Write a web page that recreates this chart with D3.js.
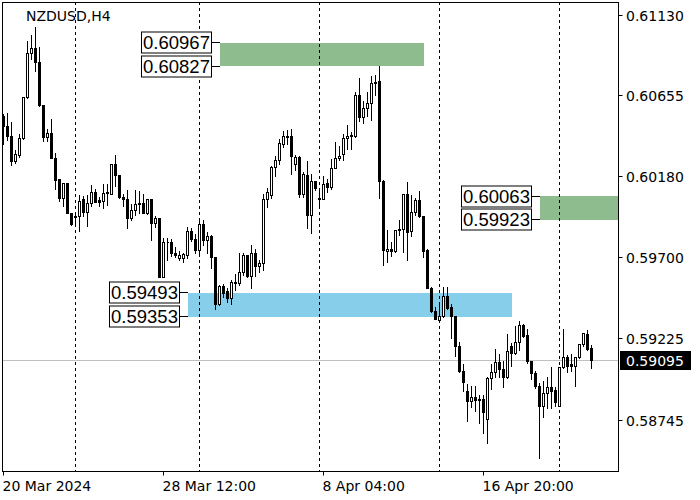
<!DOCTYPE html>
<html><head><meta charset="utf-8">
<script src="https://cdn.jsdelivr.net/npm/d3@7/dist/d3.min.js"></script>
<style>body{margin:0;background:#fff}svg{display:block}</style>
</head><body><svg id="c" width="700" height="500"></svg>
<script>
const symbolTitle = "NZDUSD,H4";
const opens = [0.60535,0.60476,0.60417,0.60266,0.60301,0.60400,0.60645,0.60904,0.60934,0.60851,
0.60596,0.60410,0.60433,0.60286,0.60162,0.60051,0.60139,0.59962,0.59938,0.59942,
0.60041,0.59966,0.60021,0.60084,0.60035,0.60031,0.60080,0.60074,0.60247,0.60184,
0.60056,0.60045,0.59933,0.59976,0.60015,0.60018,0.59962,0.60045,0.59903,0.59933,
0.59585,0.59789,0.59790,0.59727,0.59697,0.59697,0.59711,0.59854,0.59809,0.59746,
0.59899,0.59803,0.59827,0.59701,0.59426,0.59534,0.59500,0.59458,0.59556,0.59550,
0.59615,0.59711,0.59589,0.59723,0.59648,0.59668,0.60041,0.60066,0.60233,0.60272,
0.60369,0.60417,0.60413,0.60247,0.60292,0.60070,0.60182,0.59952,0.60152,0.60047,
0.60045,0.60135,0.60113,0.60227,0.60282,0.60311,0.60404,0.60423,0.60413,0.60653,
0.60528,0.60581,0.60610,0.60731,0.60741,0.60148,0.59736,0.59750,0.59736,0.59858,
0.59868,0.60070,0.59854,0.59966,0.60036,0.59942,0.59746,0.59521,0.59383,0.59330,
0.59353,0.59475,0.59409,0.59353,0.59177,0.59029,0.58912,0.58853,0.58879,0.58863,
0.58867,0.58749,0.58991,0.59024,0.59085,0.59045,0.58996,0.59177,0.59138,0.59200,
0.59304,0.59240,0.59092,0.59020,0.58941,0.58827,0.58902,0.58938,0.58918,0.58827,
0.59055,0.59114,0.59069,0.59059,0.59114,0.59187,0.59251,0.59167];
const highs = [0.60551,0.60557,0.60502,0.60335,0.60433,0.60648,0.60979,0.61018,0.61065,0.60943,
0.60600,0.60463,0.60518,0.60319,0.60165,0.60141,0.60141,0.59966,0.59966,0.60070,
0.60066,0.60070,0.60129,0.60109,0.60060,0.60139,0.60139,0.60253,0.60306,0.60186,
0.60080,0.60104,0.60021,0.60104,0.60095,0.60080,0.60045,0.60051,0.59952,0.59935,
0.59821,0.59817,0.59815,0.59766,0.59746,0.59730,0.59887,0.59880,0.59844,0.59927,
0.59927,0.59854,0.59838,0.59707,0.59540,0.59546,0.59526,0.59574,0.59605,0.59732,
0.59732,0.59713,0.59776,0.59756,0.59691,0.60076,0.60115,0.60241,0.60300,0.60404,
0.60449,0.60457,0.60463,0.60306,0.60300,0.60207,0.60272,0.60198,0.60154,0.60109,
0.60182,0.60168,0.60286,0.60388,0.60359,0.60433,0.60488,0.60443,0.60682,0.60763,
0.60629,0.60678,0.60771,0.60777,0.60830,0.60162,0.59864,0.59795,0.59868,0.59923,
0.60072,0.60148,0.60070,0.60056,0.60099,0.59944,0.59756,0.59530,0.59412,0.59442,
0.59530,0.59530,0.59432,0.59355,0.59206,0.59079,0.58961,0.58951,0.58951,0.58898,
0.58898,0.59004,0.59079,0.59167,0.59138,0.59094,0.59256,0.59200,0.59304,0.59328,
0.59314,0.59285,0.59094,0.59035,0.58965,0.58976,0.59000,0.59063,0.58945,0.59059,
0.59285,0.59128,0.59138,0.59116,0.59197,0.59258,0.59279,0.59192];
const lows = [0.60369,0.60390,0.60243,0.60253,0.60292,0.60394,0.60640,0.60869,0.60796,0.60594,
0.60384,0.60384,0.60282,0.60105,0.60031,0.60001,0.59960,0.59889,0.59903,0.59854,
0.59942,0.59883,0.60001,0.60023,0.60001,0.59993,0.60011,0.60070,0.60119,0.60052,
0.60001,0.59874,0.59919,0.59952,0.59962,0.59960,0.59958,0.59801,0.59880,0.59582,
0.59582,0.59687,0.59707,0.59703,0.59683,0.59671,0.59697,0.59795,0.59727,0.59717,
0.59770,0.59728,0.59638,0.59393,0.59418,0.59468,0.59436,0.59428,0.59510,0.59536,
0.59595,0.59587,0.59521,0.59589,0.59612,0.59624,0.59995,0.60051,0.60178,0.60247,
0.60351,0.60369,0.60188,0.60213,0.60056,0.60056,0.59874,0.59844,0.60095,0.59992,
0.60041,0.60084,0.60104,0.60225,0.60276,0.60276,0.60335,0.60335,0.60410,0.60502,
0.60492,0.60531,0.60508,0.60655,0.60051,0.59652,0.59671,0.59707,0.59730,0.59834,
0.59734,0.59687,0.59824,0.59952,0.59940,0.59703,0.59519,0.59381,0.59334,0.59324,
0.59350,0.59397,0.59226,0.59118,0.59027,0.58912,0.58735,0.58820,0.58794,0.58725,
0.58663,0.58608,0.58922,0.58996,0.58996,0.58938,0.58990,0.59059,0.59128,0.59157,
0.59232,0.59079,0.58981,0.58932,0.58519,0.58761,0.58814,0.58814,0.58823,0.58823,
0.59049,0.59024,0.59029,0.58941,0.59108,0.59177,0.59157,0.59049];
const closes = [0.60476,0.60413,0.60266,0.60306,0.60400,0.60645,0.60904,0.60934,0.60851,0.60596,
0.60410,0.60433,0.60286,0.60158,0.60051,0.60139,0.59962,0.59899,0.59944,0.60031,
0.59966,0.60021,0.60084,0.60025,0.60025,0.60080,0.60082,0.60247,0.60184,0.60056,
0.60045,0.59933,0.59976,0.60015,0.60018,0.59962,0.60041,0.59903,0.59933,0.59585,
0.59789,0.59790,0.59727,0.59711,0.59711,0.59721,0.59854,0.59809,0.59746,0.59899,
0.59803,0.59827,0.59701,0.59426,0.59534,0.59491,0.59462,0.59556,0.59550,0.59615,
0.59711,0.59589,0.59723,0.59648,0.59668,0.60041,0.60086,0.60233,0.60276,0.60374,
0.60417,0.60410,0.60296,0.60292,0.60070,0.60188,0.59952,0.60152,0.60109,0.60045,
0.60129,0.60113,0.60227,0.60286,0.60296,0.60404,0.60417,0.60413,0.60653,0.60528,
0.60581,0.60610,0.60728,0.60724,0.60148,0.59742,0.59750,0.59736,0.59858,0.59868,
0.60070,0.59848,0.59966,0.60036,0.59942,0.59736,0.59521,0.59383,0.59338,0.59353,
0.59475,0.59403,0.59353,0.59177,0.59029,0.58967,0.58853,0.58879,0.58857,0.58857,
0.58790,0.58991,0.59024,0.59085,0.59045,0.58996,0.59147,0.59138,0.59200,0.59304,
0.59236,0.59092,0.59020,0.58941,0.58827,0.58902,0.58938,0.58912,0.58847,0.59055,
0.59114,0.59063,0.59059,0.59114,0.59187,0.59256,0.59161,0.59095];

const priceTicks = [0.61130,0.60655,0.60180,0.59700,0.59225,0.58745];
const timeTickIndex = [0,40,80,120];
const timeTickLabels = ["20 Mar 2024","28 Mar 12:00","8 Apr 04:00","16 Apr 20:00"];
const separatorIndex = [18,49,79,109,139];
const currentPrice = 0.59095;
const zoneStart = [54,46,134];
const zoneEnd = [105,127,160];
const zoneHigh = [0.60967,0.59493,0.60063];
const zoneLow = [0.60827,0.59353,0.59923];
const zoneColor = ["#8fbc8f","#87ceeb","#8fbc8f"];

const svg = d3.select("#c");
const L = 2, T = 2, R = 618, B = 471;
const n = closes.length;
const x = d3.scaleLinear().domain([0, n - 1]).range([3.5, 3.5 + 4 * (n - 1)]);
const y = d3.scaleLinear().domain([0.58745, 0.61130]).range([420, 15]);
const snap = v => Math.round(v - 0.5) + 0.5;

svg.append("defs").append("clipPath").attr("id","pc")
  .append("rect").attr("x",L+0.5).attr("y",T+0.5).attr("width",R-L).attr("height",B-T);
const plot = svg.append("g").attr("clip-path","url(#pc)");

// zones
zoneStart.forEach((s,k)=>{
  const x0 = Math.round(x(s)), x1 = Math.round(x(zoneEnd[k]));
  const y0 = Math.round(y(zoneHigh[k])), y1 = Math.round(y(zoneLow[k]));
  plot.append("rect").attr("x",x0).attr("y",y0).attr("width",x1-x0).attr("height",y1-y0)
    .attr("fill",zoneColor[k]);
});

// current price line
plot.append("line").attr("x1",L).attr("x2",R).attr("y1",snap(y(currentPrice))).attr("y2",snap(y(currentPrice)))
  .attr("stroke","#c0c0c0").attr("stroke-width",1);

// separators
separatorIndex.forEach(i=>{
  plot.append("line").attr("x1",snap(x(i))).attr("x2",snap(x(i))).attr("y1",T).attr("y2",B)
    .attr("stroke","#000").attr("stroke-width",1).attr("stroke-dasharray","3,3");
});

// candles
const cg = plot.append("g").attr("shape-rendering","crispEdges");
d3.range(n).forEach(i=>{
  const cx = snap(x(i));
  cg.append("line").attr("x1",cx).attr("x2",cx)
    .attr("y1",snap(y(highs[i]))).attr("y2",snap(y(lows[i])))
    .attr("stroke","#000").attr("stroke-width",1);
  const yt = snap(y(Math.max(opens[i],closes[i])));
  const yb = snap(y(Math.min(opens[i],closes[i])));
  const up = closes[i] >= opens[i];
  cg.append("path").attr("d",`M${cx-1},${yt}H${cx+1}V${yb}H${cx-1}Z`)
    .attr("fill", up ? "#fff" : "#000").attr("stroke","#000").attr("stroke-width",1);
});

// zone labels
const fmt = d3.format(".5f");
zoneStart.forEach((s,k)=>{
  const xr = Math.round(x(s));
  const bx1 = xr - 9, bx0 = bx1 - 70;
  [zoneHigh[k], zoneLow[k]].forEach(p=>{
    const py = snap(y(p));
    svg.append("line").attr("x1",bx1).attr("x2",xr).attr("y1",py).attr("y2",py)
      .attr("stroke","#000").attr("stroke-width",1);
    svg.append("rect").attr("x",bx0+0.5).attr("y",py-10.5).attr("width",70).attr("height",21)
      .attr("fill","#fff").attr("stroke","#000").attr("stroke-width",1);
    svg.append("text").attr("x",bx0+35.5).attr("y",py+6.5).attr("text-anchor","middle")
      .attr("font-family","Liberation Sans, Arial, sans-serif").attr("font-size",18.5)
      .attr("fill","#000").text(fmt(p));
  });
});

// frame
svg.append("rect").attr("x",L+0.5).attr("y",T+0.5).attr("width",R-L).attr("height",B-T)
  .attr("fill","none").attr("stroke","#000").attr("stroke-width",1).attr("shape-rendering","crispEdges");

// title
svg.append("text").attr("x",26).attr("y",20.5).attr("font-family","DejaVu Sans, sans-serif")
  .attr("font-size",14).attr("fill","#000").text(symbolTitle);

// price axis
priceTicks.forEach(p=>{
  const py = snap(y(p));
  svg.append("line").attr("x1",R+0.5).attr("x2",R+4.5).attr("y1",py).attr("y2",py).attr("stroke","#000");
  svg.append("text").attr("x",626).attr("y",py+5).attr("font-family","DejaVu Sans, sans-serif")
    .attr("font-size",14).attr("fill","#000").text(fmt(p));
});
const cpy = snap(y(currentPrice));
svg.append("rect").attr("x",620).attr("y",cpy-9.5).attr("width",71).attr("height",19).attr("fill","#000");
svg.append("text").attr("x",626).attr("y",cpy+5).attr("font-family","DejaVu Sans, sans-serif")
  .attr("font-size",14).attr("fill","#fff").text(fmt(currentPrice));

// time axis
timeTickIndex.forEach((i,k)=>{
  const tx = snap(x(i));
  svg.append("line").attr("x1",tx).attr("x2",tx).attr("y1",B+0.5).attr("y2",B+4.5).attr("stroke","#000");
  svg.append("text").attr("x",tx-1).attr("y",491).attr("font-family","DejaVu Sans, sans-serif")
    .attr("font-size",14).attr("fill","#000").text(timeTickLabels[k]);
});
</script></body></html>
